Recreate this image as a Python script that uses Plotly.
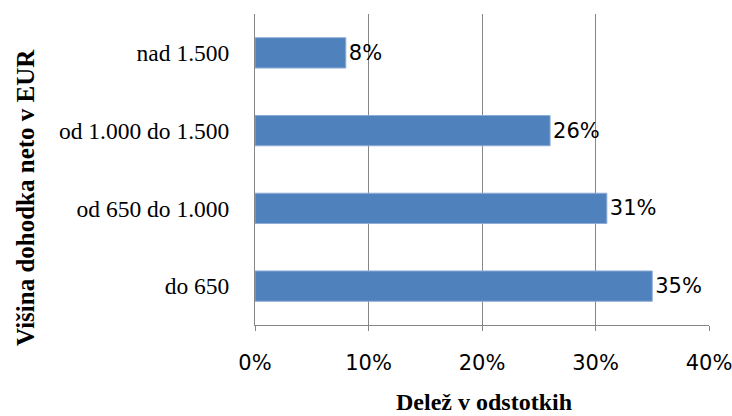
import plotly.graph_objects as go

categories = ["do 650", "od 650 do 1.000", "od 1.000 do 1.500", "nad 1.500"]
values = [0.35, 0.31, 0.26, 0.08]
labels = ["35%", "31%", "26%", "8%"]
x_ticks = [0, 0.1, 0.2, 0.3, 0.4]
x_tick_text = ["0%", "10%", "20%", "30%", "40%"]

fig = go.Figure(go.Bar(
    y=categories, x=values, orientation="h",
    marker=dict(color="#4F81BD", line=dict(color="#8EACD6", width=1)),
    width=0.39,
    text=labels, textposition="outside", cliponaxis=False,
    textfont=dict(family="DejaVu Sans", size=21, color="#000000"),
))

fig.update_layout(
    width=732, height=416,
    margin=dict(l=255, r=23, t=14, b=91, autoexpand=False),
    paper_bgcolor="white", plot_bgcolor="white",
    showlegend=False,
    xaxis=dict(
        range=[0, 0.4], tickvals=x_ticks, ticktext=x_tick_text,
        showgrid=True, gridcolor="#868686", gridwidth=1,
        showline=True, linecolor="#868686", linewidth=1,
        ticks="outside", ticklen=5, tickcolor="#868686",
        ticklabelstandoff=14, ticklabeloverflow="allow", automargin=False,
        tickfont=dict(family="DejaVu Sans", size=21, color="#000000"),
        zeroline=False,
    ),
    yaxis=dict(
        categoryorder="array", categoryarray=categories,
        showline=True, linecolor="#868686", linewidth=1,
        ticks="", showgrid=False, automargin=False,
        ticklabelstandoff=20,
        tickfont=dict(family="Liberation Serif", size=23.5, color="#000000"),
    ),
    annotations=[
        dict(text="<b>Delež v odstotkih</b>", x=0.5, xref="paper", y=0, yref="paper",
             xanchor="center", yanchor="middle",
             showarrow=False, font=dict(family="Liberation Serif", size=24, color="#000000")),
        dict(text="<b>Višina dohodka neto v EUR</b>", textangle=-90,
             x=0, y=0.5, xref="paper", yref="paper", showarrow=False,
             xanchor="center", yanchor="middle",
             font=dict(family="Liberation Serif", size=25, color="#000000")),
    ],
)
# convert pixel positions of titles to paper coords
plot_w = 732 - 255 - 23
plot_h = 416 - 14 - 91
fig.layout.annotations[0].x = (484 - 255) / plot_w
fig.layout.annotations[0].y = (416 - 91 - 402) / plot_h
fig.layout.annotations[1].x = (25 - 255) / plot_w
fig.layout.annotations[1].y = (416 - 91 - 197) / plot_h

fig.write_html("out.html")
